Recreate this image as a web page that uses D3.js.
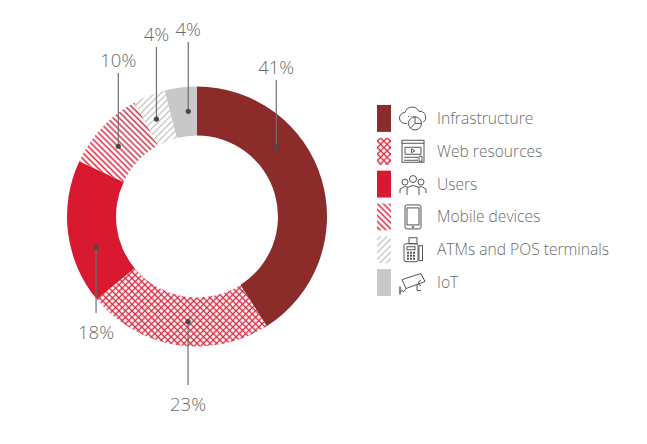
<!DOCTYPE html>
<html>
<head>
<meta charset="utf-8">
<script src="https://cdn.jsdelivr.net/npm/d3@7"></script>
<style>
  body { margin: 0; background: #fff; }
  text { font-family: "Open Sans", "Segoe UI", sans-serif; }
</style>
</head>
<body>
<svg></svg>
<script>
// data
const categories = ["Infrastructure", "Web resources", "Users", "Mobile devices", "ATMs and POS terminals", "IoT"]
const values = [41, 23, 18, 10, 4, 4]
const valueLabels = ["41%", "23%", "18%", "10%", "4%", "4%"]

// where the callout dot sits inside each slice (0..1) and where its line ends
const calloutFrac = [0.33, 0.45, 0.35, 0.46, 0.43, 0.67]
const calloutEndY = [80, 385, 313, 73, 47, 42]

const w = 647
const h = 444
const cx = 197
const cy = 216.5
const rOuter = 130
const rInner = 81
const textGray = "#6b6b6b"

const fills = ["#8b2b2a", "url(#cross)", "#d8192f", "url(#stripesRed)", "url(#stripesGray)", "#c8c8ca"]

const svg = d3.select("svg")
    .attr("width", w)
    .attr("height", h)

//Patterns
const defs = svg.append("defs")

const cross = defs.append("pattern")
    .attr("id", "cross")
    .attr("width", 4.6)
    .attr("height", 4.6)
    .attr("patternUnits", "userSpaceOnUse")
    .attr("patternTransform", "rotate(45)")
cross.append("rect").attr("width", 4.6).attr("height", 4.6).attr("fill", "#fff")
cross.append("path")
    .attr("d", "M2.3,0V4.6M0,2.3H4.6")
    .attr("stroke", "#d8293f")
    .attr("stroke-width", 1.3)

const stripesRed = defs.append("pattern")
    .attr("id", "stripesRed")
    .attr("width", 4.2)
    .attr("height", 4.2)
    .attr("patternUnits", "userSpaceOnUse")
    .attr("patternTransform", "rotate(-45)")
stripesRed.append("rect").attr("width", 4.2).attr("height", 4.2).attr("fill", "#fff")
stripesRed.append("line")
    .attr("x1", 2.1).attr("x2", 2.1).attr("y1", 0).attr("y2", 4.2)
    .attr("stroke", "#d8293f")
    .attr("stroke-width", 1.5)

const stripesGray = defs.append("pattern")
    .attr("id", "stripesGray")
    .attr("width", 4.6)
    .attr("height", 4.6)
    .attr("patternUnits", "userSpaceOnUse")
    .attr("patternTransform", "rotate(45)")
stripesGray.append("rect").attr("width", 4.6).attr("height", 4.6).attr("fill", "#fff")
stripesGray.append("line")
    .attr("x1", 2.3).attr("x2", 2.3).attr("y1", 0).attr("y2", 4.6)
    .attr("stroke", "#bdbdbf")
    .attr("stroke-width", 1.2)

//Donut
const pie = d3.pie().sort(null).value(d => d)
const arcs = pie(values)
const arc = d3.arc().innerRadius(rInner).outerRadius(rOuter)

const donut = svg.append("g").attr("transform", `translate(${cx}, ${cy})`)

donut.selectAll("path")
    .data(arcs)
    .enter()
    .append("path")
    .attr("d", arc)
    .attr("fill", (d, i) => fills[i])

//Callouts
const rMid = (rInner + rOuter) / 2
arcs.forEach((d, i) => {
    const a = d.startAngle + (d.endAngle - d.startAngle) * calloutFrac[i]
    const x = cx + rMid * Math.sin(a)
    const y = cy - rMid * Math.cos(a)
    const endY = calloutEndY[i]
    const up = endY < y

    svg.append("line")
        .attr("x1", x).attr("x2", x)
        .attr("y1", y).attr("y2", endY)
        .attr("stroke", "#6f6f6f")
        .attr("stroke-width", 1.2)

    svg.append("circle")
        .attr("cx", x).attr("cy", y)
        .attr("r", 2.6)
        .attr("fill", "#4a4a4a")

    svg.append("text")
        .attr("x", x)
        .attr("y", up ? endY - 6 : endY + 26)
        .attr("text-anchor", "middle")
        .attr("font-size", 18.5)
        .attr("font-weight", 300)
        .attr("fill", textGray)
        .text(valueLabels[i])
})

//Legend
const rowY = d3.scaleBand()
    .domain(categories)
    .range([105, 296])
    .paddingInner(0.18)

const legend = svg.append("g").attr("id", "legend")

const rows = legend.selectAll("g")
    .data(categories)
    .enter()
    .append("g")
    .attr("transform", d => `translate(0, ${rowY(d)})`)

rows.append("rect")
    .attr("x", 377)
    .attr("width", 14)
    .attr("height", rowY.bandwidth())
    .attr("fill", (d, i) => fills[i])

rows.append("text")
    .attr("x", 437)
    .attr("y", rowY.bandwidth() / 2 + 5.5)
    .attr("font-size", 15.6)
    .attr("font-weight", 300)
    .attr("fill", textGray)
    .text(d => d)

//Icons (simple line drawings)
const iconStroke = "#555"
rows.each(function(d, i) {
    const g = d3.select(this).append("g")
        .attr("transform", `translate(413, ${rowY.bandwidth() / 2})`)
        .attr("fill", "none")
        .attr("stroke", iconStroke)
        .attr("stroke-width", 1)
    if (i === 0) {
        g.append("path").attr("d", "M-6,5 H-8 A5.5,5.5 0 0 1 -8,-6 A7.5,7.5 0 0 1 6,-7 A6,6 0 0 1 10,4")
        g.append("path").attr("d", "M-5,-2 H3").attr("stroke-dasharray", "1,1.5")
        g.append("circle").attr("cx", 2).attr("cy", 5).attr("r", 6.5).attr("fill", "#fff")
        g.append("path").attr("d", "M2,-1.5 V5 H8.5 M2,5 L-2.5,9.6")
    } else if (i === 1) {
        g.append("rect").attr("x", -11).attr("y", -11).attr("width", 22).attr("height", 22)
        g.append("path").attr("d", "M-11,-8 H11 M-8,-4 H8 V3 H-8 Z M-9,6 H5 M-9,9 H5 M6,5 H9 V10 H6 Z")
        g.append("path").attr("d", "M-1.5,-2.5 L2,-0.5 L-1.5,1.5 Z")
    } else if (i === 2) {
        g.append("circle").attr("cx", 0).attr("cy", -5).attr("r", 3.5)
        g.append("circle").attr("cx", -8).attr("cy", -2).attr("r", 3)
        g.append("circle").attr("cx", 8).attr("cy", -2).attr("r", 3)
        g.append("path").attr("d", "M-6,11 V4 Q0,-1 6,4 V11 M-13,9 V5 Q-8,1 -5,3 M13,9 V5 Q8,1 5,3")
    } else if (i === 3) {
        g.append("rect").attr("x", -8).attr("y", -12).attr("width", 16).attr("height", 24).attr("rx", 2)
        g.append("rect").attr("x", -6).attr("y", -9).attr("width", 12).attr("height", 17)
        g.append("circle").attr("cx", 0).attr("cy", 10).attr("r", 0.8)
    } else if (i === 4) {
        g.append("rect").attr("x", -4).attr("y", -12).attr("width", 8).attr("height", 6)
        g.append("rect").attr("x", -9).attr("y", -6).attr("width", 14).attr("height", 18).attr("rx", 2)
        g.append("rect").attr("x", 6).attr("y", -4).attr("width", 3.5).attr("height", 15)
        g.append("rect").attr("x", -6).attr("y", -3).attr("width", 8).attr("height", 3)
        const keys = g.append("g").attr("fill", iconStroke).attr("stroke", "none")
        d3.range(9).forEach(k => {
            keys.append("rect")
                .attr("x", -6 + (k % 3) * 3)
                .attr("y", 2 + Math.floor(k / 3) * 3)
                .attr("width", 2).attr("height", 2)
        })
    } else {
        g.append("path").attr("d", "M-11,-3 L8,-9 L12,-1 L-7,6 Z")
        g.append("path").attr("d", "M-7,6 L-9,9 L-13,8 M4,2 V8 H8 M8,-2 A2.5,2.5 0 1 0 8,3")
        g.append("path").attr("d", "M-13,4 V12").attr("stroke-width", 1.4)
    }
})
</script>
</body>
</html>
